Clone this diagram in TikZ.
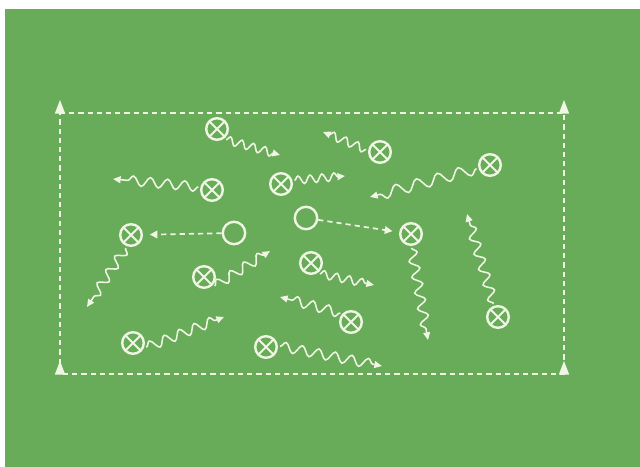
\documentclass[tikz,border=0pt]{standalone}
\usepackage{xcolor}
\usetikzlibrary{shapes.geometric, arrows.meta, decorations.pathmorphing}
\definecolor{pitchGreen}{RGB}{104,172,90}
\definecolor{chalk}{RGB}{240,245,228}

\tikzset{
  player/.style={circle, draw=chalk, line width=1.7pt, minimum size=5.4mm, inner sep=0pt, outer sep=0.8mm,
    path picture={\draw[chalk, line width=1.3pt] (path picture bounding box.north west) -- (path picture bounding box.south east)
      (path picture bounding box.north east) -- (path picture bounding box.south west);}},
  ball/.style={circle, draw=chalk, line width=1.7pt, minimum size=5.6mm, inner sep=0pt},
  cone/.style={isosceles triangle, isosceles triangle apex angle=40, isosceles triangle stretches, shape border rotate=90,
    fill=chalk, inner sep=0pt, minimum height=3.4mm, minimum width=2.6mm},
  boundary/.style={chalk, line width=1.2pt, dash pattern=on 1.3mm off 1mm},
  pass/.style={chalk, line width=1.2pt, dash pattern=on 1.3mm off 1mm, -{Triangle[length=1.9mm, width=1.9mm]}, shorten >=1.2mm},
  dribble/.style={chalk, line width=1.1pt, -{Triangle[length=1.9mm, width=1.7mm]}, decorate,
    decoration={snake, amplitude=1.2mm, segment length=4mm, post length=1.6mm}}
}

\begin{document}
\begin{tikzpicture}[x=0.025cm, y=-0.025cm]
    \useasboundingbox (0,0) rectangle (640,467);
    \fill[white] (0,0) rectangle (640,467);
    \fill[pitchGreen] (5,9) rectangle (640,467);

    % grid corners
    \coordinate (tl) at (60,113);
    \coordinate (tr) at (564,113);
    \coordinate (br) at (564,374);
    \coordinate (bl) at (60,374);
    \draw[boundary] (tl) -- (tr) -- (br) -- (bl) -- cycle;
    \node[cone] (c1) at (60,110) {};
    \node[cone] (c2) at (564,110) {};
    \node[cone] (c3) at (564,371) {};
    \node[cone] (c4) at (60,371) {};

    % players and balls
    \node[player] (p1) at (217,129) {};
    \node[player] (p2) at (212,190) {};
    \node[player] (p3) at (281,184) {};
    \node[player] (p4) at (380,152) {};
    \node[player] (p5) at (490,165) {};
    \node[player] (p7) at (131,235) {};
    \node[player] (p9) at (411,234) {};
    \node[player] (p10) at (204,277) {};
    \node[player] (p11) at (311,263) {};
    \node[player] (p12) at (351,322) {};
    \node[player] (p13) at (133,343) {};
    \node[player] (p14) at (266,347) {};
    \node[player] (p15) at (498,317) {};
    \node[ball] (b1) at (234,233) {};
    \node[ball] (b2) at (306,218) {};

    % dribble ends
    \coordinate (e1) at (280,155);
    \coordinate (e2) at (113,179);
    \coordinate (e3) at (345,176);
    \coordinate (e4) at (323,132);
    \coordinate (e5) at (370,197);
    \coordinate (e7) at (87,307);
    \coordinate (e9) at (428,340);
    \coordinate (e10) at (270,251);
    \coordinate (e11) at (374,285);
    \coordinate (e12) at (280,297);
    \coordinate (e13) at (224,317);
    \coordinate (e14) at (382,366);
    \coordinate (e15) at (467,214);

    \draw[pass] (b1) -- (p7);
    \draw[pass] (b2) -- (p9);

    \draw[dribble, decoration={segment length=3mm, amplitude=1mm}] (p1.-50) -- (e1);
    \draw[dribble, decoration={segment length=4.3mm}] (p2.167) -- (e2);
    \draw[dribble, decoration={segment length=3mm, amplitude=1mm}] (p3.15) -- (e3);
    \draw[dribble, decoration={segment length=3.2mm, amplitude=1mm}] (p4.170) -- (e4);
    \draw[dribble, decoration={segment length=5.4mm, amplitude=1.4mm}] (p5.195) -- (e5);
    \draw[dribble] (p7.-112) -- (e7);
    \draw[dribble] (p9.-88) -- (e9);
    \draw[dribble] (p10.-40) -- (e10);
    \draw[dribble, decoration={segment length=3.2mm, amplitude=1mm}] (p11.-51) -- (e11);
    \draw[dribble] (p12.140) -- (e12);
    \draw[dribble] (p13.-18) -- (e13);
    \draw[dribble, decoration={segment length=4.2mm}] (p14.3) -- (e14);
    \draw[dribble] (p15.108) -- (e15);
\end{tikzpicture}
\end{document}
